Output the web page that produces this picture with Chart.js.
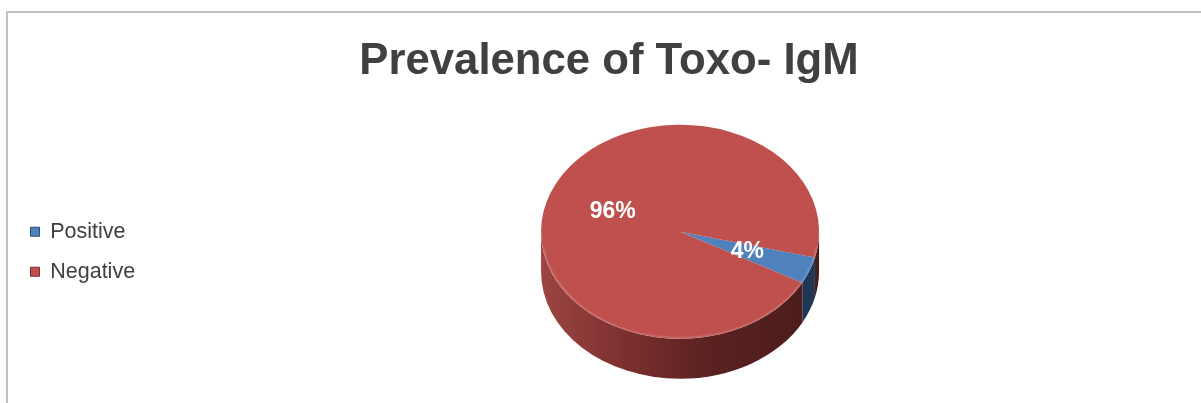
<!DOCTYPE html>
<html>
<head>
<meta charset="utf-8">
<script src="https://cdn.jsdelivr.net/npm/chart.js@4/dist/chart.umd.min.js"></script>
<style>
  html, body { margin: 0; padding: 0; background: #ffffff; }
  body { width: 1201px; height: 403px; overflow: hidden; position: relative; }
  #frame { position: absolute; left: 6px; top: 11px; width: 1300px; height: 500px;
           border-top: 2px solid #c0c0c0; border-left: 2px solid #c0c0c0; }
  #c { position: absolute; left: 0; top: 0; }
</style>
</head>
<body>
<div id="frame"></div>
<canvas id="c" width="1201" height="403"></canvas>
<script>
// ---- data ----
const chartTitle = 'Prevalence of Toxo- IgM';
const categories = ['Positive', 'Negative'];
const values = [4, 96];
const topColors = ['#4f81bd', '#c0504d'];
const edgeColors = ['#2c4d75', '#7a2e2c'];
const sideStops = [
  [[0, '#35577f'], [1, '#1f3552']],
  [[0, '#9c4543'], [0.3, '#7c302e'], [0.6, '#5a2221'], [1, '#4a1c1b']]
];

// ---- style constants ----
const TILT = 0.77;
const DEPTH = 40;
const LABEL_POS = 0.52;
const GAP_AFTER_LEGEND = 14;

// invisible layout spacer between legend and plot area
const spacer = {
  id: 'spacer',
  beforeInit(chart) {
    const box = {
      position: 'left', weight: 0, fullSize: false,
      options: {},
      width: 0, height: 0, left: 0, top: 0, right: 0, bottom: 0,
      isHorizontal() { return false; },
      update(maxWidth, maxHeight) { this.width = GAP_AFTER_LEGEND; this.height = maxHeight; },
      draw() {}
    };
    Chart.layouts.addBox(chart, box);
  }
};

const pie3d = {
  id: 'pie3d',
  beforeDatasetsDraw(chart) {
    const ctx = chart.ctx;
    const arcs = chart.getDatasetMeta(0).data;
    if (!arcs.length) return;
    const cx = arcs[0].x, cy = arcs[0].y, R = arcs[0].outerRadius;
    const ry = R * TILT, top = cy - DEPTH / 2;
    ctx.save();
    arcs.forEach((arc, i) => {
      const g = ctx.createLinearGradient(cx - R, 0, cx + R, 0);
      sideStops[i].forEach(s => g.addColorStop(s[0], s[1]));
      for (let k = -2; k <= 2; k++) {
        const a = Math.max(arc.startAngle + k * 2 * Math.PI, 0);
        const b = Math.min(arc.endAngle + k * 2 * Math.PI, Math.PI);
        if (b > a) {
          ctx.beginPath();
          ctx.ellipse(cx, top, R, ry, 0, a, b);
          ctx.ellipse(cx, top + DEPTH, R, ry, 0, b, a, true);
          ctx.closePath();
          ctx.fillStyle = g;
          ctx.fill();
        }
      }
    });
    ctx.restore();
    ctx.save();
    ctx.translate(cx, top);
    ctx.scale(1, TILT);
    ctx.translate(-cx, -cy);
  },
  afterDatasetsDraw(chart) {
    const ctx = chart.ctx;
    ctx.restore();
    const arcs = chart.getDatasetMeta(0).data;
    if (!arcs.length) return;
    const cx = arcs[0].x, cy = arcs[0].y, R = arcs[0].outerRadius;
    const ry = R * TILT, top = cy - DEPTH / 2;
    ctx.save();
    ctx.beginPath();
    ctx.ellipse(cx, top, R - 1, ry - 1, 0, 0.15, Math.PI - 0.15);
    ctx.strokeStyle = 'rgba(255,255,255,0.12)';
    ctx.lineWidth = 2;
    ctx.stroke();
    ctx.restore();
    const total = values.reduce((s, v) => s + v, 0);
    ctx.save();
    ctx.font = 'bold 23px "Liberation Sans", Arial, sans-serif';
    ctx.fillStyle = '#ffffff';
    ctx.textAlign = 'center';
    ctx.textBaseline = 'middle';
    arcs.forEach((arc, i) => {
      const mid = (arc.startAngle + arc.endAngle) / 2;
      const x = cx + Math.cos(mid) * R * LABEL_POS;
      const y = top + Math.sin(mid) * ry * LABEL_POS;
      ctx.fillText(Math.round(values[i] / total * 100) + '%', x, y);
    });
    ctx.restore();
  }
};

new Chart(document.getElementById('c'), {
  type: 'pie',
  data: {
    labels: categories,
    datasets: [{
      data: values,
      backgroundColor: topColors,
      borderWidth: 0
    }]
  },
  options: {
    responsive: false,
    animation: false,
    radius: 139,
    rotation: 104,
    layout: { padding: { left: 12, top: 12, right: -5, bottom: 0 } },
    plugins: {
      tooltip: { enabled: false },
      title: {
        display: true,
        text: chartTitle,
        color: '#404040',
        font: { family: '"Liberation Sans", Arial, sans-serif', size: 43.7, weight: 'bold' },
        padding: { top: 24, bottom: 12 }
      },
      legend: {
        position: 'left',
        fullSize: false,
        labels: {
          boxWidth: 9,
          boxHeight: 9,
          padding: 18.5,
          color: '#404040',
          font: { family: '"Liberation Sans", Arial, sans-serif', size: 21.5 },
          generateLabels: (chart) => chart.data.labels.map((t, i) => ({
            text: t,
            fillStyle: topColors[i],
            strokeStyle: edgeColors[i],
            lineWidth: 1,
            hidden: false,
            index: i,
            fontColor: '#404040'
          }))
        }
      }
    }
  },
  plugins: [spacer, pie3d]
});
</script>
</body>
</html>
